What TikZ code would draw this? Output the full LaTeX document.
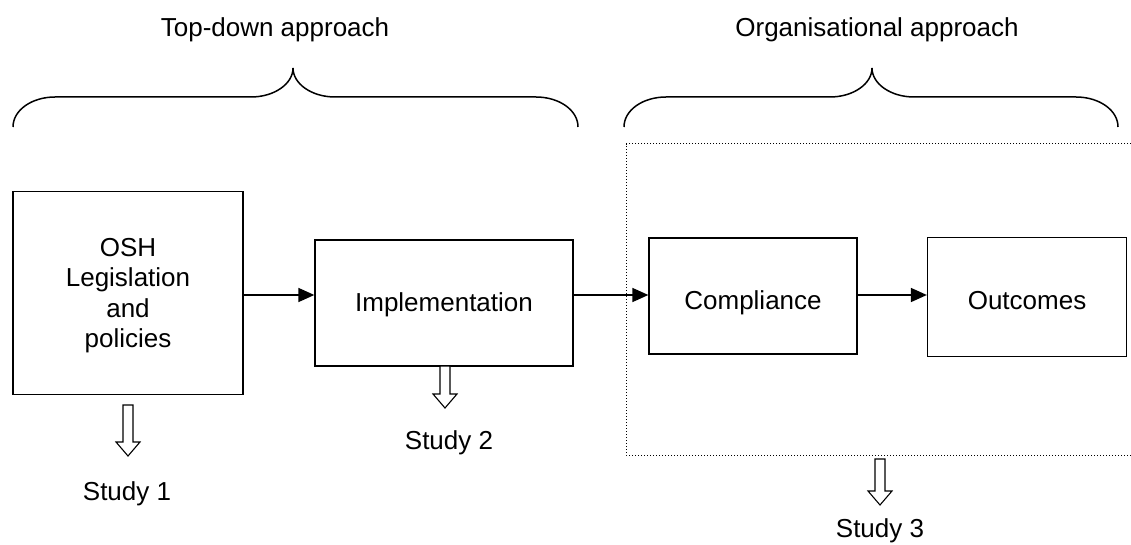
\documentclass[tikz,border=0pt]{standalone}
\usepackage{fontspec}
\setmainfont{Liberation Sans}
\usetikzlibrary{arrows.meta}
\tikzset{
  box/.style={draw, line width=1.3pt, inner sep=0pt},
  label/.style={font=\fontsize{26}{30.5}\selectfont, align=center, inner sep=0pt},
  flow/.style={line width=1.6pt, -{Triangle[length=16pt,width=14pt]}},
  brace/.style={line width=1.5pt},
  region/.style={line width=1pt, dash pattern=on 1.2pt off 1.8pt},
  studyarrow/.style={draw, line width=1.1pt, fill=white},
}
\begin{document}
\begin{tikzpicture}[x=1pt, y=-1pt]
\useasboundingbox (0,0) rectangle (1131,545);

% headings
\node[label, anchor=base] (tdtext) at (275,37) {Top-down approach};
\node[label, anchor=base] (orgtext) at (877,37) {Organisational approach};

% braces
\draw[brace] (13,127) .. controls (13,110) and (32,97) .. (55,97) -- (251,97)
  .. controls (274,97) and (293,84) .. (293,68)
  .. controls (293,84) and (312,97) .. (335,97) -- (536,97)
  .. controls (559,97) and (578,110) .. (578,127);
\draw[brace] (624,127) .. controls (624,110) and (643,97) .. (666,97) -- (830,97)
  .. controls (853,97) and (872,84) .. (872,68)
  .. controls (872,84) and (891,97) .. (914,97) -- (1076,97)
  .. controls (1099,97) and (1118,110) .. (1118,127);

% dotted frame of the organisational part
\draw[region] (1131,144) -- (626,144) -- (626,455) -- (1131,455);

% process boxes
\node[box, minimum width=230pt, minimum height=203pt] (osh) at (128,293) {};
\node[label] (oshtext) at (128,295.5) {OSH\\Legislation\\and\\policies};
\node[box, minimum width=258pt, minimum height=126pt] (impl) at (444,303) {};
\node[label, anchor=base] (impltext) at (444,311) {Implementation};
\node[box, minimum width=208pt, minimum height=116pt] (comp) at (753,296) {};
\node[label, anchor=base] (comptext) at (753,309) {Compliance};
\node[box, minimum width=199pt, minimum height=119pt] (outc) at (1027,297) {};
\node[label, anchor=base] (outctext) at (1027,309) {Outcomes};

% flow between boxes
\draw[flow] (osh.east |- 0,295) -- (impl.west |- 0,295);
\draw[flow] (impl.east |- 0,295) -- (comp.west |- 0,295);
\draw[flow] (comp.east |- 0,295) -- (outc.west |- 0,295);

% hollow arrows pointing to the studies
\newcommand{\studyarrow}[3]{%
  \draw[studyarrow] (#1-5,#2) -- (#1+5,#2) -- (#1+5,#3-14) -- (#1+12,#3-14)
    -- (#1,#3) -- (#1-12,#3-14) -- (#1-5,#3-14) -- cycle;}
\studyarrow{128}{405}{456}
\studyarrow{445}{366}{408}
\studyarrow{880}{459}{505}

\node[label, anchor=base] (s1) at (127,500) {Study 1};
\node[label, anchor=base] (s2) at (449,449) {Study 2};
\node[label, anchor=base] (s3) at (880,537) {Study 3};
\end{tikzpicture}
\end{document}
